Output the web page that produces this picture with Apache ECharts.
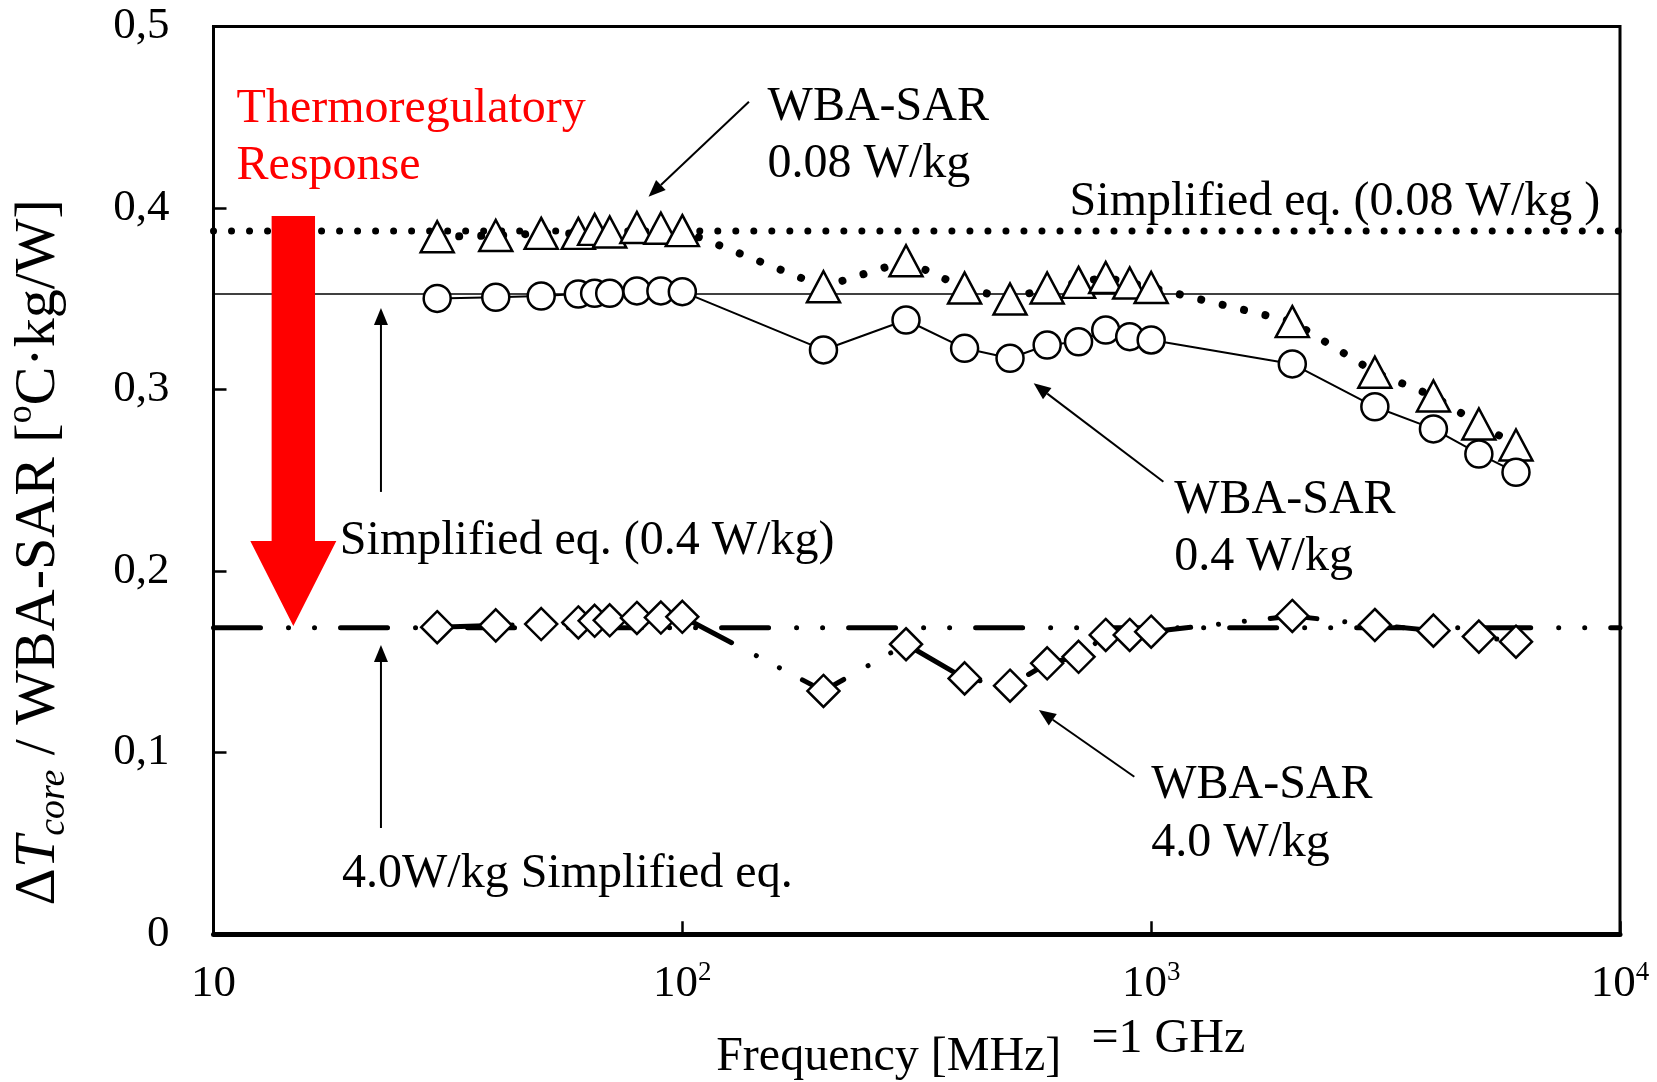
<!DOCTYPE html>
<html><head><meta charset="utf-8">
<script src="https://cdn.jsdelivr.net/npm/echarts@6/dist/echarts.min.js"></script>
<style>html,body{margin:0;padding:0;background:#fff}#c{width:1657px;height:1082px}</style>
</head><body><div id="c"></div>
<script>
// ---------- data ----------
const freqMHz = [30,40,50,60,65,70,80,90,100,200,300,400,500,600,700,800,900,1000,2000,3000,4000,5000,6000];
const wba008 = [0.3841,0.3848,0.3860,0.3860,0.3882,0.3868,0.3892,0.3888,0.3875,0.3566,0.3709,0.3559,0.3499,0.3559,0.3590,0.3617,0.3587,0.3562,0.3374,0.3095,0.2964,0.2810,0.2694];
const wba04  = [0.3502,0.3508,0.3515,0.3526,0.3530,0.3530,0.3543,0.3543,0.3539,0.3218,0.3383,0.3227,0.3172,0.3245,0.3263,0.3328,0.3291,0.3273,0.3141,0.2905,0.2783,0.2645,0.2544];
const wba40  = [0.1691,0.1701,0.1708,0.1717,0.1726,0.1729,0.1742,0.1744,0.1748,0.1340,0.1597,0.1409,0.1369,0.1492,0.1528,0.1648,0.1648,0.1666,0.1753,0.1703,0.1672,0.1639,0.1611];
const simpEq008 = 0.3873;
const simpEq04 = 0.3526;
const simpEq40 = 0.1688;
const xRange = [10, 10000];
const yTickLabels = ['0','0,1','0,2','0,3','0,4','0,5'];

// annotation anchors (data coordinates)
const arrowTails = [[138.7,0.4585],[22.76,0.2436],[22.76,0.0585],[1062,0.2492],[920.5,0.0867]];
const arrowTips  = [[84.7,0.4062],[22.76,0.3449],[22.76,0.1593],[561.6,0.3034],[576,0.1235]];
const redArrow = [14.8, 0.3956, 0.1698];   // x, top, tip
const noteTexts = ['Thermoregulatory','Response','WBA-SAR','0.08 W/kg','Simplified eq. (0.08 W/kg )',
  'Simplified eq. (0.4 W/kg)','WBA-SAR','0.4 W/kg','WBA-SAR','4.0 W/kg','4.0W/kg Simplified eq.','=1 GHz'];
const notePos = [[11.2,0.4545],[11.2,0.4228],[152.0,0.4556],[152.0,0.4240],[670,0.4032],
  [18.6,0.2162],[1120,0.2392],[1120,0.2075],[1000,0.0820],[1000,0.0500],[18.8,0.0330],[746,-0.0578]];
const noteRed = [true,true,false,false,false,false,false,false,false,false,false,false];

// ---------- chart ----------
const FONT = '"Liberation Serif","Times New Roman",serif';
const pairs = (ys) => freqMHz.map((f,i)=>[f, ys[i]]);
const hline = (v) => [[xRange[0], v],[xRange[1], v]];
const dotStyle = (w, gap) => ({color:'#000', width:w, type:[0.01, gap], cap:'round'});
const dashDot = {color:'#000', width:5, type:[47,28,0.01,26,0.01,26], cap:'round'};

const chart = echarts.init(document.getElementById('c'), null, {renderer:'canvas'});
const markerStyle = {color:'#fff', borderColor:'#000', borderWidth:2.5, opacity:1};

chart.setOption({
  animation:false,
  backgroundColor:'#fff',
  grid:{left:213.5, right:37, top:26.4, bottom:147.8, containLabel:false, outerBoundsMode:'none',
        show:true, borderColor:'#000', borderWidth:3, backgroundColor:'transparent'},
  xAxis:{
    type:'log', logBase:10, min:xRange[0], max:xRange[1],
    name:'Frequency [MHz]', nameLocation:'middle', nameGap:99,
    nameTextStyle:{fontFamily:FONT, fontSize:48, color:'#000', padding:[0,56,0,0]},
    axisLine:{show:true, onZero:false, lineStyle:{color:'#000', width:5}},
    axisTick:{show:true, inside:true, length:13, lineStyle:{color:'#000', width:2.5}},
    splitLine:{show:false}, minorTick:{show:false},
    axisLabel:{margin:25, color:'#000', fontFamily:FONT,
      formatter:(v)=>{const e=Math.round(Math.log10(v)); return e===1?'{b|10}':'{b|10}{s|'+e+'}';},
      rich:{b:{fontFamily:FONT, fontSize:45, lineHeight:50, color:'#000'},
            s:{fontFamily:FONT, fontSize:27, lineHeight:30, verticalAlign:'top', color:'#000'}}}
  },
  yAxis:{
    type:'value', min:0, max:0.5, interval:0.1,
    name:'{d|Δ}{t|T}{sub|core}{n| / WBA-SAR [}{sup|o}{n|C·kg/W]}',
    nameLocation:'middle', nameGap:140,
    nameTextStyle:{fontFamily:FONT, fontSize:58, color:'#000', padding:[0,144,0,0],
      rich:{
        d:{fontFamily:FONT, fontSize:58, lineHeight:70, color:'#000'},
        t:{fontFamily:FONT, fontSize:58, lineHeight:70, fontStyle:'italic', color:'#000'},
        n:{fontFamily:FONT, fontSize:58, lineHeight:70, color:'#000'},
        sub:{fontFamily:FONT, fontSize:38, lineHeight:40, fontStyle:'italic', verticalAlign:'bottom', color:'#000'},
        sup:{fontFamily:FONT, fontSize:36, lineHeight:40, verticalAlign:'top', color:'#000'}
      }},
    axisLine:{show:true, lineStyle:{color:'#000', width:3}},
    axisTick:{show:true, inside:true, length:13, lineStyle:{color:'#000', width:2.5}},
    splitLine:{show:false},
    axisLabel:{margin:44, color:'#000', fontFamily:FONT, fontSize:45,
      formatter:(v)=>yTickLabels[Math.round(v*10)]}
  },
  series:[
    {type:'line', data:hline(simpEq008), symbol:'none', lineStyle:dotStyle(7,18), z:2},
    {type:'line', data:hline(simpEq04), symbol:'none', lineStyle:{color:'#000', width:1.6}, z:2},
    {type:'line', data:hline(simpEq40), symbol:'none', lineStyle:dashDot, z:2},
    {type:'line', data:pairs(wba008), symbol:'none', lineStyle:dotStyle(8,22), z:2},
    {type:'line', data:pairs(wba04), symbol:'none', lineStyle:{color:'#000', width:2}, z:2},
    {type:'line', data:pairs(wba40), symbol:'none', lineStyle:dashDot, z:2},
    {type:'scatter', data:pairs(wba008), symbol:'triangle', symbolSize:[33,31], itemStyle:markerStyle, z:5},
    {type:'scatter', data:pairs(wba04), symbol:'circle', symbolSize:27, itemStyle:markerStyle, z:5},
    {type:'scatter', data:pairs(wba40), symbol:'diamond', symbolSize:[32,32], itemStyle:markerStyle, z:5},
    // thin black arrows
    {type:'custom', z:8, clip:false,
     data:arrowTails.map((t,i)=>[t[0],t[1],arrowTips[i][0],arrowTips[i][1]]),
     encode:{x:[0,2], y:[1,3]},
     renderItem:(params, api)=>{
       const p1 = api.coord([api.value(0), api.value(1)]);
       const p2 = api.coord([api.value(2), api.value(3)]);
       const dx=p2[0]-p1[0], dy=p2[1]-p1[1], L=Math.hypot(dx,dy), ux=dx/L, uy=dy/L;
       const hl=17, hw=7;
       const b=[p2[0]-ux*hl, p2[1]-uy*hl];
       return {type:'group', children:[
         {type:'line', shape:{x1:p1[0],y1:p1[1],x2:b[0],y2:b[1]}, style:{stroke:'#000', lineWidth:2}},
         {type:'polygon', shape:{points:[p2,[b[0]-uy*hw,b[1]+ux*hw],[b[0]+uy*hw,b[1]-ux*hw]]}, style:{fill:'#000'}}
       ]};
     }},
    // red arrow
    {type:'custom', z:9, clip:false,
     data:[[redArrow[0], redArrow[1], redArrow[0], redArrow[2]]],
     encode:{x:[0,2], y:[1,3]},
     renderItem:(params, api)=>{
       const pt = api.coord([api.value(0), api.value(1)]);
       const pp = api.coord([api.value(2), api.value(3)]);
       const x=pt[0], sw=21.7, hw=43, hl=85, by=pp[1]-hl;
       return {type:'polygon', shape:{points:[[x-sw,pt[1]],[x+sw,pt[1]],[x+sw,by],[x+hw,by],[x,pp[1]],[x-hw,by],[x-sw,by]]},
               style:{fill:'#ff0000'}};
     }},
    // text notes
    {type:'custom', z:10, clip:false,
     data:notePos.map(p=>[p[0],p[1]]),
     encode:{x:0, y:1},
     renderItem:(params, api)=>{
       const p = api.coord([api.value(0), api.value(1)]);
       const i = params.dataIndex;
       return {type:'text', x:p[0], y:p[1],
         style:{text:noteTexts[i], fill:noteRed[i]?'#ff0000':'#000', fontFamily:FONT, fontSize:48,
                align:'left', verticalAlign:'middle'}};
     }}
  ]
});
</script>
</body></html>
